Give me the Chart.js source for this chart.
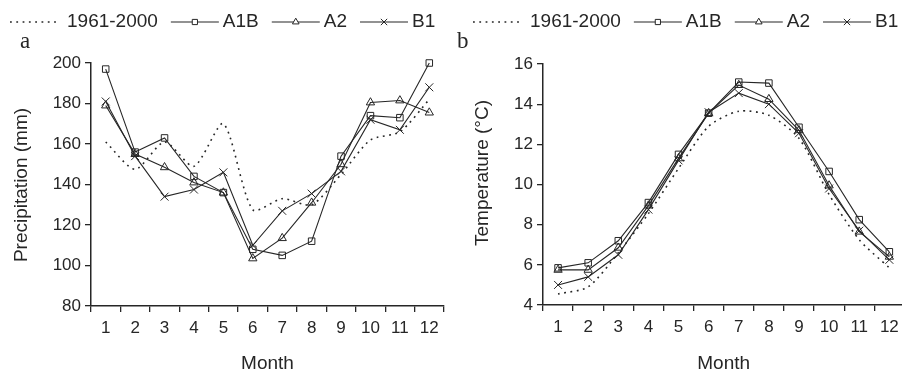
<!DOCTYPE html>
<html>
<head>
<meta charset="utf-8">
<script src="https://cdn.jsdelivr.net/npm/chart.js@4.4.1/dist/chart.umd.min.js"></script>
<style>
  html, body { margin: 0; padding: 0; background: #fff; }
  body { width: 902px; height: 371px; overflow: hidden; position: relative; }
  .panel { position: absolute; top: 0; }
  #panelA { left: 0; }
  #panelB { left: 451px; }
</style>
</head>
<body>
<div class="panel" id="panelA"><canvas id="precipChart" width="451" height="376"></canvas></div>
<div class="panel" id="panelB"><canvas id="tempChart" width="460" height="376"></canvas></div>
<script>
// 月份与情景
const months = ['1', '2', '3', '4', '5', '6', '7', '8', '9', '10', '11', '12'];
const seriesNames = ['1961-2000', 'A1B', 'A2', 'B1'];

// 降水 (mm)
const precipBase = [161, 147.5, 161, 149, 170, 127.5, 133, 130, 145, 162, 166, 182];
const precipA1B = [197, 156, 163, 144, 136, 108, 105, 112, 154, 174, 173, 200];
const precipA2 = [179, 155, 148.5, 141, 136, 103.5, 113.5, 131, 150, 180.5, 181.5, 175.5];
const precipB1 = [181, 154, 134, 137.5, 146, 110, 127, 135.5, 146.5, 172, 167, 188];

// 气温 (°C)
const tempBase = [4.55, 4.9, 6.6, 8.55, 10.8, 12.9, 13.65, 13.45, 12.3, 9.5, 7.25, 5.85];
const tempA1B = [5.85, 6.1, 7.2, 9.1, 11.5, 13.55, 15.1, 15.05, 12.85, 10.65, 8.25, 6.65];
const tempA2 = [5.75, 5.75, 6.85, 8.95, 11.3, 13.55, 14.95, 14.25, 12.7, 9.95, 7.65, 6.4];
const tempB1 = [5.0, 5.4, 6.5, 8.75, 11.2, 13.6, 14.55, 14.0, 12.55, 9.8, 7.7, 6.25];

const INK = '#262626';
const SANS = '"Liberation Sans", Arial, Helvetica, sans-serif';
const SERIF = '"Liberation Serif", "Times New Roman", serif';
const markers = [false, 'rect', 'triangle', 'crossRot'];
const markerRadius = [0, 4.6, 4.8, 5.6];

function makeDatasets(values) {
  return values.map((data, i) => ({
    label: seriesNames[i],
    data: data,
    borderColor: INK,
    borderWidth: i === 0 ? 1.6 : 1.1,
    borderDash: i === 0 ? [1.8, 4.5] : [],
    tension: i === 0 ? 0.25 : 0,
    pointStyle: markers[i],
    pointRadius: markerRadius[i],
    pointBorderWidth: 1,
    pointBorderColor: INK,
    pointBackgroundColor: 'rgba(255,255,255,0)',
    clip: false
  }));
}

// 顶部图例 + 面板字母 + 纵轴标题
const decorPlugin = {
  id: 'decor',
  afterDraw(chart, args, opts) {
    const ctx = chart.ctx;
    ctx.save();
    ctx.strokeStyle = INK;
    ctx.font = '19px ' + SANS;
    ctx.textBaseline = 'middle';
    let x = opts.legendX;
    const y = 22;
    seriesNames.forEach((name, i) => {
      const lineLen = 48;
      ctx.lineWidth = i === 0 ? 1.6 : 1.1;
      ctx.setLineDash(i === 0 ? [1.8, 4.5] : []);
      ctx.beginPath();
      ctx.moveTo(x, y);
      ctx.lineTo(x + lineLen, y);
      ctx.stroke();
      ctx.setLineDash([]);
      if (markers[i]) {
        ctx.lineWidth = 1;
        ctx.fillStyle = '#fff';
        Chart.helpers.drawPoint(ctx, {
          pointStyle: markers[i], radius: markerRadius[i] * 0.8, borderWidth: 1
        }, x + lineLen / 2, y);
      }
      ctx.fillStyle = INK;
      x += lineLen + (i === 0 ? 9 : 4);
      ctx.fillText(name, x, y);
      x += ctx.measureText(name).width + 13;
    });

    ctx.font = '23px ' + SERIF;
    ctx.fillText(opts.letter, opts.letterX, 42);

    ctx.font = '19px ' + SANS;
    ctx.textAlign = 'center';
    ctx.translate(opts.titleX, opts.titleY);
    ctx.rotate(-Math.PI / 2);
    ctx.fillText(opts.yTitle, 0, 0);
    ctx.restore();
  }
};

function makeChart(canvasId, values, yMin, yMax, step, cfg) {
  const ctx = document.getElementById(canvasId).getContext('2d');
  return new Chart(ctx, {
    type: 'line',
    data: { labels: months, datasets: makeDatasets(values) },
    options: {
      responsive: false,
      animation: false,
      devicePixelRatio: 1,
      layout: { padding: { top: cfg.top, right: cfg.right, left: 0, bottom: 0 } },
      plugins: {
        legend: { display: false },
        tooltip: { enabled: false },
        decor: cfg.decor
      },
      scales: {
        x: {
          type: 'category',
          offset: true,
          afterFit: s => { s.height = cfg.xHeight; },
          grid: { display: true, offset: true, drawOnChartArea: false, drawTicks: true, tickLength: 6, color: INK, lineWidth: 1.3 },
          border: { display: true, color: INK, width: 1.5 },
          ticks: { color: INK, font: { family: SANS, size: 17 }, padding: 6, maxRotation: 0, autoSkip: false },
          title: { display: true, text: 'Month', color: INK, font: { family: SANS, size: 19, lineHeight: 1 }, padding: { top: 0, bottom: 3 } }
        },
        y: {
          min: yMin,
          max: yMax,
          afterFit: s => { s.width = cfg.yWidth; },
          grid: { display: true, drawOnChartArea: false, drawTicks: true, tickLength: 6, color: INK, lineWidth: 1.3 },
          border: { display: true, color: INK, width: 1.5 },
          ticks: { stepSize: step, color: INK, font: { family: SANS, size: 17 }, padding: 4 }
        }
      }
    },
    plugins: [decorPlugin]
  });
}

document.addEventListener('DOMContentLoaded', () => {
  makeChart('precipChart', [precipBase, precipA1B, precipA2, precipB1], 80, 200, 20, {
    top: 63, right: 7, xHeight: 70, yWidth: 91,
    decor: { legendX: 10, letter: 'a', letterX: 20, yTitle: 'Precipitation (mm)', titleX: 22, titleY: 185 }
  });
  makeChart('tempChart', [tempBase, tempA1B, tempA2, tempB1], 4, 16, 2, {
    top: 64, right: 4, xHeight: 71, yWidth: 92,
    decor: { legendX: 22, letter: 'b', letterX: 6, yTitle: 'Temperature (\u00b0C)', titleX: 32, titleY: 173 }
  });
});
</script>
</body>
</html>
